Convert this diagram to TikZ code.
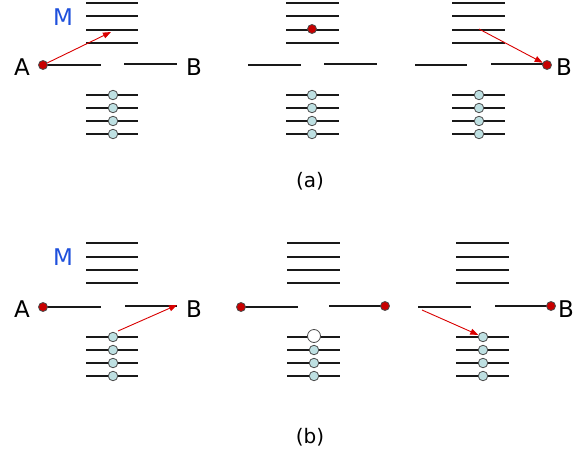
\documentclass[tikz,border=0pt]{standalone}
\usepackage{fontspec}
\setmainfont{DejaVu Sans}
\usetikzlibrary{arrows.meta}
\definecolor{lvl}{RGB}{190,224,226}
\definecolor{dotred}{RGB}{200,0,0}
\definecolor{mblue}{RGB}{30,80,220}
\tikzset{
  lev/.style={line width=2pt, black!90},
  lead/.style={line width=1.6pt, black!90},
  elec/.style={circle, draw=black!70, line width=0.8pt, fill=lvl, minimum size=9.5pt, inner sep=0pt},
  hole/.style={circle, draw=black!70, line width=0.8pt, fill=white, minimum size=13pt, inner sep=0pt},
  rdot/.style={circle, draw=black!70, line width=0.8pt, fill=dotred, minimum size=9pt, inner sep=0pt},
  lbl/.style={font=\fontsize{23}{26}\selectfont, inner sep=0pt},
  captext/.style={font=\fontsize{20}{23}\selectfont, inner sep=0pt},
  jump/.style={red!85!black, line width=0.9pt, -{Triangle[length=8pt,width=6pt]}},
}
\begin{document}
\begin{tikzpicture}[x=1pt,y=-1pt]
\useasboundingbox (0,0) rectangle (586,455);
% Panel (a) left
\foreach \y in {3,16,30,43} \draw[lev] (86,\y) -- (138,\y);
\foreach \y in {95,108,121,134} {\draw[lev] (86,\y) -- (138,\y);}
\draw[lead] (43,65) -- (101,65);
\draw[lead] (124,64) -- (177,64);
\foreach \y/\n in {95/a1,108/a2,121/a3,134/a4} \node[elec] (\n) at (113,\y) {};
\node[rdot] (aA) at (43,65) {};
\node[lbl] (labA1) at (22,67) {A};
\node[lbl] (labB1) at (194,67) {B};
\node[lbl, text=mblue] (labM1) at (63,17) {M};
\coordinate (aT) at (111,32);
\draw[jump] (aA) -- (aT);
% Panel (a) middle
\foreach \y in {3,16,30,43} \draw[lev] (286,\y) -- (339,\y);
\foreach \y in {95,108,121,134} \draw[lev] (286,\y) -- (339,\y);
\draw[lead] (248,65) -- (301,65);
\draw[lead] (324,64) -- (377,64);
\foreach \y/\n in {95/b1,108/b2,121/b3,134/b4} \node[elec] (\n) at (312,\y) {};
\node[rdot] (bM) at (312,29) {};
% Panel (a) right
\foreach \y in {3,16,30,43} \draw[lev] (452,\y) -- (505,\y);
\foreach \y in {95,108,121,134} \draw[lev] (452,\y) -- (505,\y);
\draw[lead] (415,65) -- (467,65);
\draw[lead] (491,64) -- (547,64);
\foreach \y/\n in {95/c1,108/c2,121/c3,134/c4} \node[elec] (\n) at (479,\y) {};
\node[rdot] (cB) at (547,65) {};
\node[lbl] (labB2) at (564,67) {B};
\coordinate (cS) at (479,29);
\draw[jump] (cS) -- (cB);
\node[captext] (capa) at (310,181) {(a)};
% Panel (b) left
\foreach \y in {243,257,270,283} \draw[lev] (86,\y) -- (138,\y);
\foreach \y in {337,350,363,376} \draw[lev] (86,\y) -- (138,\y);
\draw[lead] (43,307) -- (101,307);
\draw[lead] (125,306) -- (177,306);
\foreach \y/\n in {337/d1,350/d2,363/d3,376/d4} \node[elec] (\n) at (113,\y) {};
\node[rdot] (dA) at (43,307) {};
\node[lbl] (labA3) at (22,309) {A};
\node[lbl] (labB3) at (194,309) {B};
\node[lbl, text=mblue] (labM3) at (63,257) {M};
\coordinate (dS) at (118,331);
\coordinate (dT) at (177,305);
\draw[jump] (dS) -- (dT);
% Panel (b) middle
\foreach \y in {243,257,270,283} \draw[lev] (287,\y) -- (340,\y);
\foreach \y in {337,350,363,376} \draw[lev] (287,\y) -- (340,\y);
\draw[lead] (241,307) -- (298,307);
\draw[lead] (329,306) -- (385,306);
\node[hole] (e1) at (314,336) {};
\foreach \y/\n in {350/e2,363/e3,376/e4} \node[elec] (\n) at (314,\y) {};
\node[rdot] (eA) at (241,307) {};
\node[rdot] (eB) at (385,306) {};
% Panel (b) right
\foreach \y in {243,257,270,283} \draw[lev] (456,\y) -- (509,\y);
\foreach \y in {337,350,363,376} \draw[lev] (456,\y) -- (509,\y);
\draw[lead] (418,307) -- (471,307);
\draw[lead] (495,306) -- (551,306);
\foreach \y/\n in {337/f1,350/f2,363/f3,376/f4} \node[elec] (\n) at (483,\y) {};
\node[rdot] (fB) at (551,306) {};
\node[lbl] (labB4) at (566,309) {B};
\coordinate (fS) at (422,310);
\draw[jump] (fS) -- (f1);
\node[captext] (capb) at (310,437) {(b)};
\end{tikzpicture}
\end{document}
